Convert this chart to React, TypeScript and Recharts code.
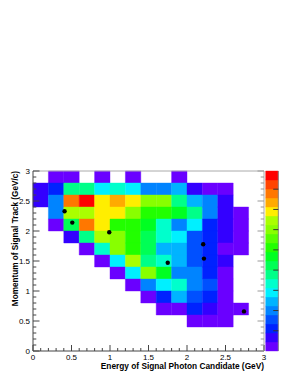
import {
  ScatterChart,
  Scatter,
  XAxis,
  YAxis,
  ReferenceArea,
  ReferenceLine,
} from "recharts";

// bin edges (GeV for x, GeV/c for y)
const X_EDGES = [0, 0.2, 0.4, 0.6, 0.8, 1, 1.2, 1.4, 1.6, 1.8, 2, 2.2, 2.4, 2.6, 2.8, 3];
const Y_EDGES = [0, 0.2, 0.4, 0.6, 0.8, 1, 1.2, 1.4, 1.6, 1.8, 2, 2.2, 2.4, 2.6, 2.8, 3];

const MAJOR_TICKS = [0, 0.5, 1, 1.5, 2, 2.5, 3];
const ALL_TICKS = [
  0, 0.1, 0.2, 0.3, 0.4, 0.5, 0.6, 0.7, 0.8, 0.9, 1, 1.1, 1.2, 1.3, 1.4, 1.5,
  1.6, 1.7, 1.8, 1.9, 2, 2.1, 2.2, 2.3, 2.4, 2.5, 2.6, 2.7, 2.8, 2.9, 3,
];

// bin contents, top row (2.8-3.0) first, 0 = empty bin
const BIN_CONTENT = [
  [0, 0.2, 0.2, 0, 0.2, 0, 0.2, 0, 0, 0.2, 0, 0, 0, 0, 0],
  [0.7, 1.1, 3.8, 3.8, 2.9, 3.3, 2.9, 2.0, 2.0, 2.4, 0.7, 0.2, 0.2, 0, 0],
  [0.7, 2.0, 7.8, 8.7, 6.9, 7.3, 6.9, 6.0, 6.0, 3.8, 2.4, 2.0, 0.7, 0, 0],
  [0, 2.0, 6.4, 6.4, 6.9, 6.9, 6.0, 5.1, 5.1, 4.7, 3.8, 2.0, 0.7, 0.2, 0],
  [0, 0.2, 4.2, 7.8, 6.9, 5.1, 5.1, 4.7, 3.3, 2.0, 2.9, 1.1, 0.7, 0.2, 0],
  [0, 0, 0.7, 3.8, 6.4, 6.0, 5.1, 4.2, 3.3, 2.9, 1.6, 1.1, 0.7, 0.2, 0],
  [0, 0, 0, 0.2, 3.3, 6.0, 5.1, 4.2, 2.4, 2.4, 1.6, 1.1, 0.2, 0.2, 0],
  [0, 0, 0, 0, 0.2, 2.9, 6.4, 3.8, 3.3, 2.4, 1.6, 1.1, 0.7, 0, 0],
  [0, 0, 0, 0, 0, 0.2, 2.9, 6.0, 4.7, 2.0, 2.0, 1.1, 0.2, 0, 0],
  [0, 0, 0, 0, 0, 0, 0.2, 2.0, 2.9, 3.3, 2.0, 1.6, 0.2, 0, 0],
  [0, 0, 0, 0, 0, 0, 0, 0.2, 1.1, 2.4, 1.6, 1.1, 0.2, 0, 0],
  [0, 0, 0, 0, 0, 0, 0, 0, 0.2, 0.2, 1.1, 0.7, 0.2, 0.2, 0],
  [0, 0, 0, 0, 0, 0, 0, 0, 0, 0, 0.2, 0.2, 0.2, 0, 0],
  [0, 0, 0, 0, 0, 0, 0, 0, 0, 0, 0, 0, 0, 0, 0],
  [0, 0, 0, 0, 0, 0, 0, 0, 0, 0, 0, 0, 0, 0, 0],
];

// signal candidates drawn as black markers
const CAND_E = [0.41, 0.51, 0.99, 1.75, 2.21, 2.22, 2.74];
const CAND_P = [2.33, 2.14, 1.98, 1.47, 1.78, 1.54, 0.66];

const Z_MAX = 8.9;
const Z_TICKS = [1, 2, 3, 4, 5, 6, 7, 8];

const PALETTE = [
  "#6a00ff", "#3300ff", "#0022ff", "#0050ff", "#0084ff",
  "#00b4ff", "#00f0ff", "#00ffcc", "#00ff88", "#00ff55",
  "#00ff22", "#22ff00", "#55ff00", "#88ff00", "#aaff00",
  "#ffee00", "#ffaa00", "#ff7700", "#ff4400", "#ff0000",
];

const colorOf = (z: number) =>
  PALETTE[Math.min(PALETTE.length - 1, Math.floor((z / Z_MAX) * PALETTE.length))];

const AXIS = "#444";
const FONT = "'Liberation Sans', Arial, Helvetica, sans-serif";

type Side = "bottom" | "left" | "top" | "right";

// one axis per side draws major + minor ticks (inward, ROOT style)
const makeTick = (side: Side, labels: boolean) => (props: any) => {
  const { x, y, payload } = props;
  const major = MAJOR_TICKS.includes(payload.value);
  const horiz = side === "bottom" || side === "top";
  const len = horiz ? (major ? 6 : 3) : major ? 6.5 : 3.3;
  let x2 = x;
  let y2 = y;
  if (side === "bottom") y2 = y - len;
  if (side === "top") y2 = y + len;
  if (side === "left") x2 = x + len;
  if (side === "right") x2 = x - len;
  const stroke = side === "bottom" || side === "left" ? AXIS : "#999";
  return (
    <g>
      <line x1={x} y1={y} x2={x2} y2={y2} stroke={stroke} strokeWidth={1} />
      {labels && major && side === "bottom" && (
        <text x={x} y={y + 9} textAnchor="middle" fontSize={8} fontFamily={FONT} fill="#000">
          {payload.value}
        </text>
      )}
      {labels && major && side === "left" && (
        <text x={x - 3} y={y + 2.9} textAnchor="end" fontSize={8} fontFamily={FONT} fill="#000">
          {payload.value}
        </text>
      )}
    </g>
  );
};

export default function App() {
  const cells: { x1: number; x2: number; y1: number; y2: number; fill: string }[] = [];
  BIN_CONTENT.forEach((row, r) => {
    const yi = BIN_CONTENT.length - 1 - r;
    row.forEach((z, xi) => {
      if (z > 0) {
        cells.push({
          x1: X_EDGES[xi],
          x2: X_EDGES[xi + 1],
          y1: Y_EDGES[yi],
          y2: Y_EDGES[yi + 1],
          fill: colorOf(z),
        });
      }
    });
  });

  const dots = CAND_E.map((e, i) => ({ x: e, y: CAND_P[i] }));
  const zToY = (z: number) => (z / Z_MAX) * 3;

  return (
    <div style={{ position: "absolute", left: 0, top: 0 }}>
      <ScatterChart
        width={300}
        height={388}
        margin={{ top: 170, right: 35, bottom: 36, left: 32 }}
        style={{ fontFamily: FONT, background: "#fff" }}
      >
        <XAxis
          xAxisId="x"
          dataKey="x"
          type="number"
          domain={[0, 3]}
          allowDataOverflow
          ticks={ALL_TICKS}
          interval={0}
          height={1}
          tickSize={0}
          tickMargin={0}
          tickLine={false}
          stroke={AXIS}
          tick={makeTick("bottom", true)}
          label={{
            content: ({ viewBox }: any) => (
              <text
                x={viewBox.x + viewBox.width}
                y={viewBox.y + 17.5}
                textAnchor="end"
                fontSize={8.3}
                fontWeight="bold"
                fontFamily={FONT}
                fill="#000"
              >
                Energy of Signal Photon Candidate (GeV)
              </text>
            ),
          }}
        />
        <XAxis
          xAxisId="xTop"
          orientation="top"
          type="number"
          domain={[0, 3]}
          allowDataOverflow
          ticks={ALL_TICKS}
          interval={0}
          height={1}
          tickSize={0}
          tickMargin={0}
          tickLine={false}
          stroke="#aaa"
          tick={makeTick("top", false)}
        />
        <YAxis
          yAxisId="y"
          dataKey="y"
          type="number"
          domain={[0, 3]}
          allowDataOverflow
          ticks={ALL_TICKS}
          interval={0}
          width={1}
          tickSize={0}
          tickMargin={0}
          tickLine={false}
          stroke={AXIS}
          tick={makeTick("left", true)}
          label={{
            content: ({ viewBox }: any) => (
              <text
                transform={`translate(${viewBox.x + viewBox.width - 15}, ${viewBox.y}) rotate(-90)`}
                textAnchor="end"
                fontSize={8.2}
                fontWeight="bold"
                fontFamily={FONT}
                fill="#000"
              >
                Momentum of Signal Track (GeV/c)
              </text>
            ),
          }}
        />
        <YAxis
          yAxisId="yRight"
          orientation="right"
          type="number"
          domain={[0, 3]}
          allowDataOverflow
          ticks={ALL_TICKS}
          interval={0}
          width={1}
          tickSize={0}
          tickMargin={0}
          tickLine={false}
          stroke="#aaa"
          tick={makeTick("right", false)}
        />

        {cells.map((c, i) => (
          <ReferenceArea
            key={`cell-${i}`}
            xAxisId="x"
            yAxisId="y"
            x1={c.x1}
            x2={c.x2}
            y1={c.y1}
            y2={c.y2}
            fill={c.fill}
            fillOpacity={1}
            stroke={c.fill}
            strokeWidth={0.4}
            ifOverflow="visible"
          />
        ))}

        {/* palette (z axis) */}
        {PALETTE.map((color, k) => (
          <ReferenceArea
            key={`pal-${k}`}
            xAxisId="x"
            yAxisId="y"
            x1={3.022}
            x2={3.186}
            y1={zToY((k * Z_MAX) / PALETTE.length)}
            y2={zToY(((k + 1) * Z_MAX) / PALETTE.length)}
            fill={color}
            fillOpacity={1}
            stroke={color}
            strokeWidth={0.4}
            ifOverflow="visible"
          />
        ))}
        <ReferenceLine
          xAxisId="x"
          yAxisId="y"
          segment={[
            { x: 3.186, y: 0 },
            { x: 3.186, y: 3 },
          ]}
          stroke="#888"
          ifOverflow="visible"
        />
        {Z_TICKS.map((z) => (
          <ReferenceLine
            key={`zt-${z}`}
            xAxisId="x"
            yAxisId="y"
            segment={[
              { x: 3.12, y: zToY(z) },
              { x: 3.186, y: zToY(z) },
            ]}
            stroke="#333"
            ifOverflow="visible"
          />
        ))}

        <Scatter
          xAxisId="x"
          yAxisId="y"
          data={dots}
          isAnimationActive={false}
          shape={(p: any) => <circle cx={p.cx} cy={p.cy} r={2.2} fill="#000" />}
        />
      </ScatterChart>
    </div>
  );
}
